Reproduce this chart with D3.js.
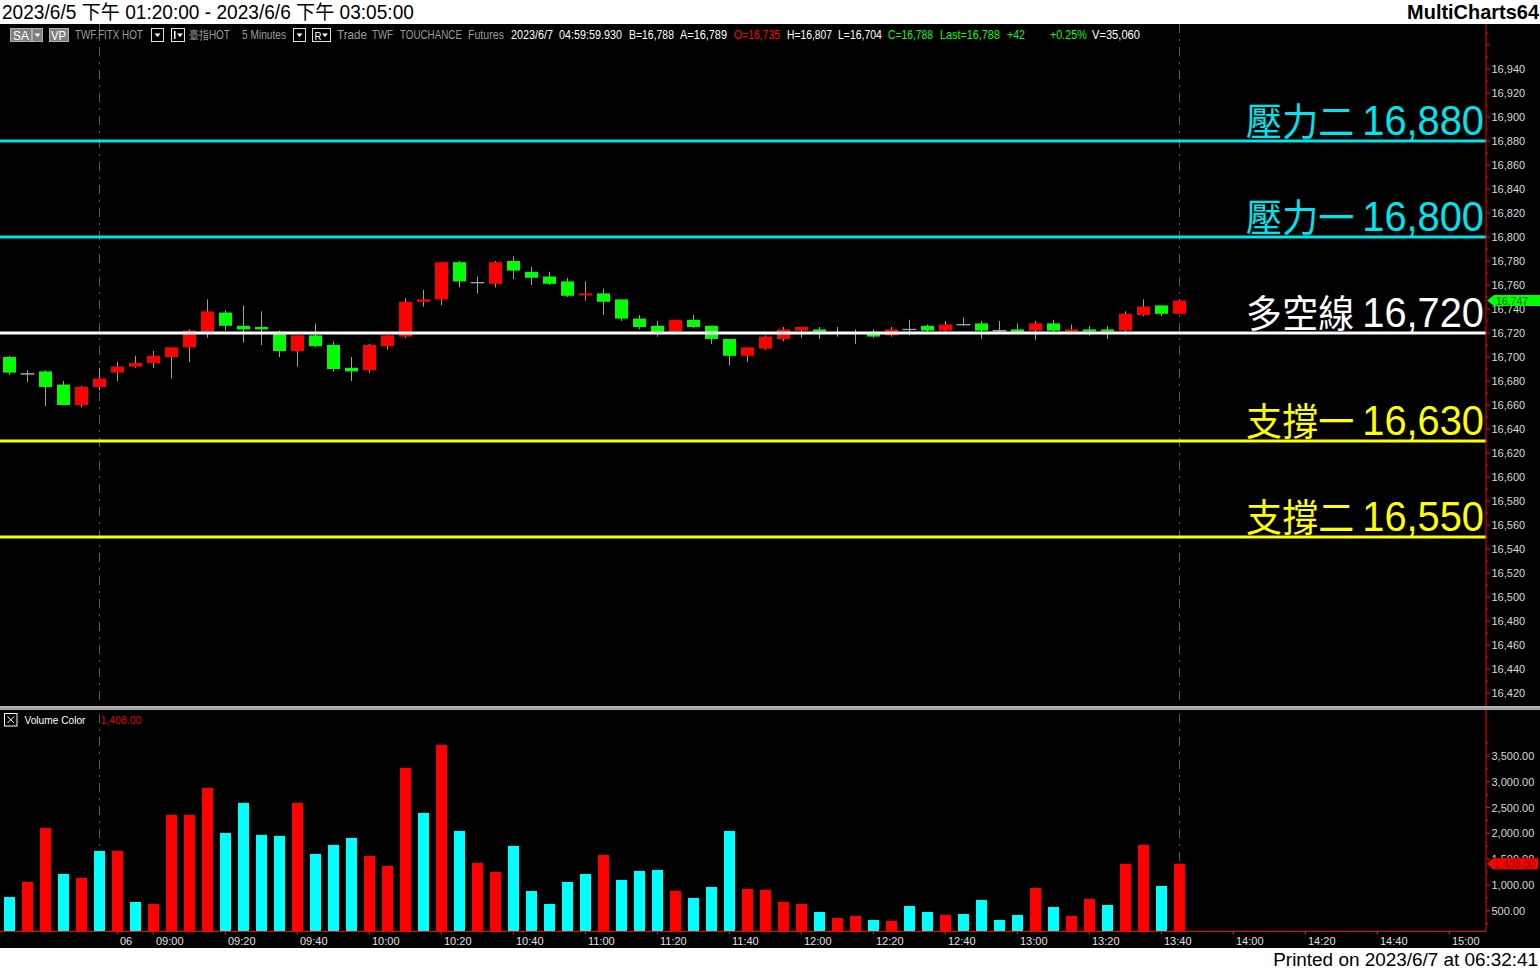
<!DOCTYPE html>
<html><head><meta charset="utf-8">
<script src="https://cdn.jsdelivr.net/npm/d3@7"></script>
<style>html,body{margin:0;padding:0;background:#000;overflow:hidden}</style>
</head><body><svg id="c" width="1540" height="971"></svg>
<script>
// ---------------- DATA ----------------
const opens  = [16700,16686,16688,16677,16660,16675,16687,16692,16695,16700,16708,16721,16737,16726,16725,16721,16705,16718,16710,16691,16689,16709,16717,16746,16748,16779,16762,16761,16780,16771,16767,16763,16752,16753,16748,16732,16726,16721,16731,16726,16715,16701,16707,16715,16722,16723,16720,16720,16720,16718,16723,16726,16722,16727,16728,16722,16723,16722,16728,16722,16723,16723,16722,16735,16743,16736];
const highs  = [16701,16689,16689,16680,16676,16691,16696,16701,16705,16708,16723,16748,16739,16743,16738,16722,16718,16728,16713,16700,16711,16718,16749,16756,16779,16780,16767,16780,16784,16775,16771,16766,16763,16757,16748,16735,16730,16731,16735,16726,16715,16708,16718,16725,16725,16725,16725,16723,16723,16725,16731,16727,16730,16733,16730,16730,16728,16730,16731,16727,16726,16726,16738,16748,16743,16748];
const lows   = [16685,16679,16659,16660,16658,16672,16680,16691,16691,16682,16696,16716,16722,16712,16710,16700,16692,16708,16688,16680,16687,16706,16716,16742,16743,16758,16753,16758,16765,16760,16760,16750,16747,16735,16730,16723,16717,16720,16724,16711,16693,16696,16706,16713,16716,16715,16717,16711,16716,16717,16718,16721,16721,16726,16715,16721,16720,16714,16721,16721,16718,16715,16721,16734,16734,16736];
const closes = [16687,16686,16675,16660,16675,16682,16692,16695,16701,16708,16722,16738,16726,16723,16723,16705,16718,16709,16690,16688,16710,16718,16746,16748,16779,16763,16762,16779,16772,16766,16761,16751,16753,16746,16732,16725,16721,16731,16725,16715,16701,16708,16717,16723,16725,16721,16720,16720,16717,16723,16723,16722,16727,16727,16722,16722,16721,16728,16722,16723,16722,16722,16736,16742,16736,16747];
const volumes = [766,1057,2104,1212,1134,1658,1658,669,630,2356,2356,2880,2007,2589,1969,1949,2589,1600,1775,1910,1561,1367,3268,2395,3714,2046,1425,1251,1755,882,630,1057,1212,1580,1096,1270,1290,882,747,960,2046,921,902,669,630,475,359,398,320,301,592,475,417,436,708,320,417,941,572,398,727,611,1406,1775,979,1408];
const volumeUp = [0,1,1,0,1,0,1,0,1,1, 1,1,0,0,0,0,1,0,0,0, 1,1,1,0,1,0,1,1,0,0, 0,0,0,1,0,0,0,1,0,0, 0,1,1,1,1,0,1,1,0,1, 0,0,1,0,0,0,0,1,0,1, 1,0,1,1,0,1];
const xTickLabels = ["06","09:00","09:20","09:40","10:00","10:20","10:40","11:00","11:20","11:40","12:00","12:20","12:40","13:00","13:20","13:40","14:00","14:20","14:40","15:00"];
const xTickBars   = [6,8,12,16,20,24,28,32,36,40,44,48,52,56,60,64,68,72,76,80];
const sessionBreaks = [5,65];
const levelNames  = ["壓力二","壓力一","多空線","支撐一","支撐二"];
const levelValues = [16880,16800,16720,16630,16550];
const levelKinds  = ["res","res","pivot","sup","sup"];
const priceTicks  = d3.range(16420,16941,20);
const priceMinor  = d3.range(16410,16971,10);
const volTicks    = [500,1000,1500,2000,2500,3000,3500];
const volMinor    = d3.range(250,3751,250);
const titleText = "2023/6/5 下午 01:20:00 - 2023/6/6 下午 03:05:00";
const brandText = "MultiCharts64";
const footText  = "Printed on 2023/6/7 at 06:32:41";

// ---------------- LAYOUT ----------------
const W=1540,H=971, axisX=1486;
const svg=d3.select("#c");
const x=d3.scaleLinear().domain([0,80]).range([9.5,1449.5]);
const y=d3.scaleLinear().domain([16550,16880]).range([537,141]);
const yv=d3.scaleLinear().domain([0,3500]).range([936.5,755.9]);
const levelColor={res:"#00e4ee",pivot:"#ffffff",sup:"#ffff00"};
const fmt=d3.format(",");
const fmt2=d3.format(",.2f");

// place a text so that it spans exactly `w` px horizontally (scaled), starting at x0 (or ending at x0 if anchor end)
function fitText(sel,x0,y0,w,anchor){
  sel.attr("x",0).attr("y",0).attr("text-anchor",anchor||"start");
  const n=sel.node().getComputedTextLength();
  const s=n>0?w/n:1;
  sel.attr("transform",`translate(${x0},${y0}) scale(${s},1)`);
  return sel;
}

svg.append("rect").attr("width",W).attr("height",H).attr("fill","#fff");
svg.append("rect").attr("x",0).attr("y",24).attr("width",W).attr("height",924).attr("fill","#000");

// header & footer
fitText(svg.append("text").attr("font-family","Liberation Sans, Noto Sans CJK TC").attr("font-size",19.5).attr("fill","#000").text(titleText),2,19,412);
fitText(svg.append("text").attr("font-family","Liberation Sans").attr("font-weight","bold").attr("font-size",19.5).attr("fill","#000").text(brandText),1539,19,132,"end");
fitText(svg.append("text").attr("font-family","Liberation Sans").attr("font-size",19).attr("fill","#000").text(footText),1538,965.5,265,"end");

// clip paths
const defs=svg.append("defs");
defs.append("clipPath").attr("id","pclip").append("rect").attr("x",0).attr("y",24).attr("width",axisX).attr("height",682);
defs.append("clipPath").attr("id","vclip").append("rect").attr("x",0).attr("y",711).attr("width",axisX).attr("height",220);

// session dashed lines
svg.append("g").selectAll("line").data(sessionBreaks).join("line")
  .attr("x1",d=>x(d)).attr("x2",d=>x(d)).attr("y1",24).attr("y2",931)
  .attr("stroke","#5c5c5c").attr("stroke-width",1).attr("stroke-dasharray","9,6,2,6");

// candles
const pg=svg.append("g").attr("clip-path","url(#pclip)");
const idx=d3.range(opens.length);
pg.selectAll(".wick").data(idx).join("line")
  .attr("x1",i=>x(i)).attr("x2",i=>x(i)).attr("y1",i=>y(highs[i])).attr("y2",i=>y(lows[i]))
  .attr("stroke","#a0a0a0").attr("stroke-width",1);
pg.selectAll(".body").data(idx).join("rect")
  .attr("x",i=>x(i)-6.5).attr("width",13)
  .attr("y",i=>closes[i]===opens[i]?y(opens[i])-0.5:y(Math.max(opens[i],closes[i])))
  .attr("height",i=>closes[i]===opens[i]?1.2:Math.max(2,Math.abs(y(opens[i])-y(closes[i]))))
  .attr("fill",i=>closes[i]>opens[i]?"#ff0000":(closes[i]<opens[i]?"#00ff00":"#a0a0a0"));
pg.selectAll(".doji").data(idx.filter(i=>closes[i]===opens[i])).join("line")
  .attr("x1",i=>x(i)-7).attr("x2",i=>x(i)+7).attr("y1",i=>y(opens[i])).attr("y2",i=>y(opens[i]))
  .attr("stroke","#a0a0a0").attr("stroke-width",1);

// level lines and labels
const lg=svg.append("g");
lg.selectAll("line").data(levelValues).join("line")
  .attr("x1",0).attr("x2",axisX).attr("y1",d=>y(d)).attr("y2",d=>y(d))
  .attr("stroke",(d,i)=>levelColor[levelKinds[i]]).attr("stroke-width",3);
levelValues.forEach((v,i)=>{
  const t=lg.append("text").attr("fill",levelColor[levelKinds[i]]);
  t.append("tspan").attr("font-family","Noto Sans CJK TC").attr("font-size",38).text(levelNames[i]+" ");
  t.append("tspan").attr("font-family","Liberation Sans").attr("font-size",42).text(fmt(v));
  fitText(t,1484,y(v)-6,238,"end");
});

// price axis
const ax=svg.append("g");
ax.append("line").attr("x1",axisX).attr("x2",axisX).attr("y1",24).attr("y2",931).attr("stroke","#ff0000");
ax.selectAll(".pm").data(priceMinor.filter(v=>y(v)>28&&y(v)<704)).join("line")
  .attr("x1",axisX).attr("x2",d=>axisX+(d%20===0?4:2)).attr("y1",d=>y(d)).attr("y2",d=>y(d)).attr("stroke","#ff0000");
const lp=closes[closes.length-1], lpy=y(lp);
ax.selectAll(".pl").data(priceTicks.filter(d=>Math.abs(y(d)-lpy)>9)).join("text")
  .attr("x",1491.5).attr("y",d=>y(d)+4).attr("font-family","Liberation Sans").attr("font-size",11)
  .attr("fill","#d8d8d8").text(d=>fmt(d));
// partially hidden label under marker (clipped to its visible lower part)
defs.append("clipPath").attr("id","lpclip").append("rect").attr("x",1488).attr("y",lpy+5.5).attr("width",52).attr("height",12);
ax.selectAll(".ph").data(priceTicks.filter(d=>Math.abs(y(d)-lpy)<=9)).join("text")
  .attr("clip-path","url(#lpclip)")
  .attr("x",1491.5).attr("y",d=>y(d)+4).attr("font-family","Liberation Sans").attr("font-size",11)
  .attr("fill","#d8d8d8").text(d=>fmt(d));

// last price marker
svg.append("path").attr("d",`M${axisX+1},${lpy} L${axisX+8},${lpy-5.5} L1540,${lpy-5.5} L1540,${lpy+5.5} L${axisX+8},${lpy+5.5} Z`).attr("fill","#00ff00");
svg.append("text").attr("x",1496).attr("y",lpy+4).attr("font-family","Liberation Sans").attr("font-size",10.5).attr("fill","#006000").text(fmt(lp));

// toolbar
const tb=svg.append("g").attr("font-family","Liberation Sans").attr("font-size",12);
function box(x0,w,fill,stroke){tb.append("rect").attr("x",x0+0.5).attr("y",28.5).attr("width",w).attr("height",13).attr("fill",fill).attr("stroke",stroke);}
function arrow(cx,col){tb.append("path").attr("d",`M${cx-3},33.5 L${cx+3},33.5 L${cx},37 Z`).attr("fill",col);}
box(10,21,"#808080","#b0b0b0"); fitText(tb.append("text").attr("fill","#fff").text("SA"),13,39.5,16);
box(32,10,"#808080","#b0b0b0"); arrow(37.5,"#fff");
box(49,19,"#808080","#b0b0b0"); fitText(tb.append("text").attr("fill","#fff").text("VP"),51,39.5,15);
box(151,12,"#000","#e0e0e0"); arrow(157.5,"#fff");
box(171,13,"#000","#e0e0e0"); tb.append("rect").attr("x",174).attr("y",31).attr("width",1.5).attr("height",8).attr("fill","#fff"); arrow(180,"#fff");
box(293,12,"#000","#e0e0e0"); arrow(299.5,"#fff");
box(312,18,"#000","#e0e0e0"); fitText(tb.append("text").attr("fill","#fff").attr("font-size",11).text("R"),314.5,39.5,7); arrow(325,"#fff");
const tbItems=[
 ["TWF.FITX HOT",75,68,"#9c9c9c"],["臺指HOT",189,41,"#9c9c9c"],["5 Minutes",242,44,"#9c9c9c"],
 ["Trade",337,30,"#9c9c9c"],["TWF",372,21,"#9c9c9c"],["TOUCHANCE",400,62,"#9c9c9c"],["Futures",468,36,"#9c9c9c"],
 ["2023/6/7",511,42,"#fff"],["04:59:59.930",559,63,"#fff"],["B=16,788",629,45,"#fff"],["A=16,789",680,47,"#fff"],
 ["O=16,735",734,46,"#ff0000"],["H=16,807",787,45,"#fff"],["L=16,704",838,44,"#fff"],["C=16,788",888,45,"#00ff00"],
 ["Last=16,788",940,60,"#00ff00"],["+42",1007,18,"#00ff00"],["+0.25%",1050,37,"#00ff00"],["V=35,060",1092,48,"#fff"]];
tbItems.forEach(d=>fitText(tb.append("text").attr("fill",d[3]).text(d[0]),d[1],39.3,d[2]));

// separator
svg.append("rect").attr("x",0).attr("y",706).attr("width",W).attr("height",4).attr("fill","#7a7a7a");
svg.append("line").attr("x1",0).attr("x2",W).attr("y1",707).attr("y2",707).attr("stroke","#f0f0f0");
svg.append("line").attr("x1",0).attr("x2",W).attr("y1",709.2).attr("y2",709.2).attr("stroke","#c8c8c8");

// volume panel header
svg.append("rect").attr("x",4.5).attr("y",713.5).attr("width",12.5).attr("height",12.5).attr("fill","none").attr("stroke","#fff");
svg.append("path").attr("d","M7.5,716.5 L14,723 M14,716.5 L7.5,723").attr("stroke","#fff").attr("stroke-width",1);
fitText(svg.append("text").attr("font-family","Liberation Sans").attr("font-size",11).attr("fill","#fff").text("Volume Color"),24.5,724,61);
const lv=volumes[volumes.length-1];
fitText(svg.append("text").attr("font-family","Liberation Sans").attr("font-size",11).attr("fill","#e00000").text(fmt2(lv)),100.5,724,41);

// volume bars
const vg=svg.append("g").attr("clip-path","url(#vclip)");
vg.selectAll("rect").data(idx).join("rect")
  .attr("x",i=>x(i)-5.5).attr("width",11).attr("y",i=>yv(volumes[i])).attr("height",i=>yv(0)-yv(volumes[i]))
  .attr("fill",i=>volumeUp[i]?"#ff0000":"#00ffff");

// x axis
svg.append("line").attr("x1",0).attr("x2",axisX).attr("y1",931.5).attr("y2",931.5).attr("stroke","#ff0000");
const xg=svg.append("g");
xg.selectAll("line").data(xTickBars).join("line").attr("x1",d=>x(d)).attr("x2",d=>x(d)).attr("y1",931).attr("y2",934.5).attr("stroke","#ff0000");
xg.selectAll("text").data(xTickBars).join("text").attr("x",d=>x(d)+2.5).attr("y",945).attr("font-family","Liberation Sans").attr("font-size",11)
  .attr("fill","#e0e0e0").text((d,i)=>xTickLabels[i]);

// volume axis
const vax=svg.append("g");
vax.selectAll(".vm").data(volMinor).join("line").attr("x1",axisX).attr("x2",d=>axisX+(d%500===0?4:2))
  .attr("y1",d=>yv(d)).attr("y2",d=>yv(d)).attr("stroke","#ff0000");
const lvy=yv(lv);
vax.selectAll(".vl").data(volTicks.filter(d=>Math.abs(yv(d)-lvy)>9)).join("text").attr("x",1491.5).attr("y",d=>yv(d)+4).attr("font-family","Liberation Sans").attr("font-size",11)
  .attr("fill","#d8d8d8").text(d=>fmt2(d));
defs.append("clipPath").attr("id","lvclip").append("rect").attr("x",1488).attr("y",lvy-20).attr("width",52).attr("height",14.5);
vax.selectAll(".vh").data(volTicks.filter(d=>Math.abs(yv(d)-lvy)<=9)).join("text").attr("clip-path","url(#lvclip)")
  .attr("x",1491.5).attr("y",d=>yv(d)+4).attr("font-family","Liberation Sans").attr("font-size",11)
  .attr("fill","#d8d8d8").text(d=>fmt2(d));
svg.append("path").attr("d",`M${axisX+1},${lvy} L${axisX+7},${lvy-5.5} L1538,${lvy-5.5} L1538,${lvy+5.5} L${axisX+7},${lvy+5.5} Z`).attr("fill","#ff0000");
svg.append("text").attr("x",1494).attr("y",lvy+4).attr("font-family","Liberation Sans").attr("font-size",10.5).attr("fill","#8a0000").text(fmt2(lv));
</script></body></html>
